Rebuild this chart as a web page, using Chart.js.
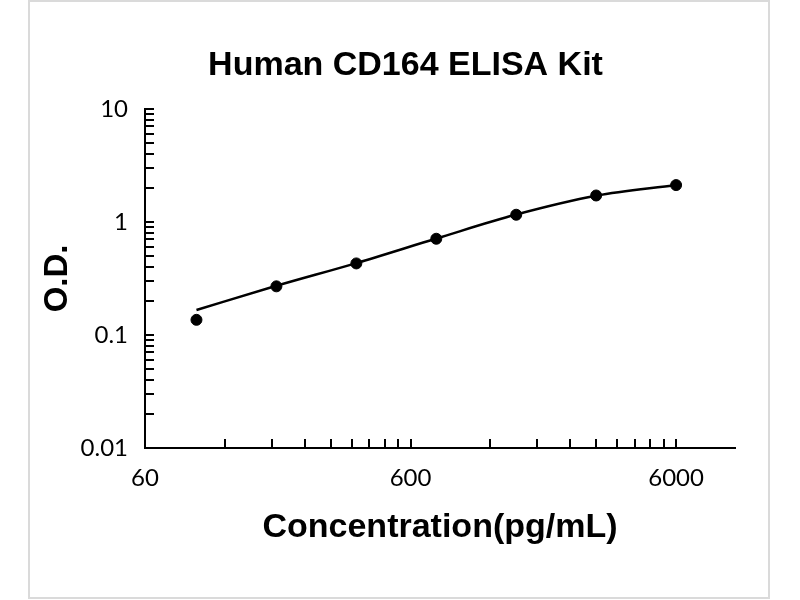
<!DOCTYPE html>
<html>
<head>
<meta charset="utf-8">
<script src="https://cdn.jsdelivr.net/npm/chart.js@4/dist/chart.umd.min.js"></script>
<style>
  body { margin: 0; background: #fff; }
  #wrap { position: relative; width: 800px; height: 600px; }
  #frame { position: absolute; left: 28px; top: 0px; width: 738px; height: 595px; border: 2px solid #dadada; pointer-events: none; }
</style>
</head>
<body>
<div id="wrap">
  <canvas id="myChart" width="800" height="600"></canvas>
  <div id="frame"></div>
</div>
<script>
// standards (pg/mL) and measured O.D.
const concentrations = [93.75, 187.5, 375, 750, 1500, 3000, 6000];
const odValues = [0.136, 0.269, 0.429, 0.709, 1.156, 1.711, 2.115];
// fitted curve at the same concentrations
const fitValues = [0.166, 0.272, 0.432, 0.712, 1.16, 1.70, 2.115];

const xTickLabels = [60, 600, 6000];
const yTickLabels = [0.01, 0.1, 1, 10];
const multiples = [1, 2, 3, 4, 5, 6, 7, 8, 9];

// minor tick positions: multiples of each labelled decade
let xTicks = [];
xTickLabels.forEach(d => {
    multiples.forEach(m => {
        if (d * m <= 10000) xTicks.push(d * m);
    });
});
let yTicks = [];
yTickLabels.forEach(d => {
    if (d === 10) { yTicks.push(10); return; }
    multiples.forEach(m => yTicks.push(+(d * m).toPrecision(3)));
});

// tick marks pointing into the plot
const innerTicks = {
    id: 'innerTicks',
    afterDraw(chart) {
        const ctx = chart.ctx;
        const xs = chart.scales.x;
        const ys = chart.scales.y;
        ctx.save();
        ctx.strokeStyle = '#000';
        ctx.lineWidth = 2;
        ctx.beginPath();
        xs.ticks.forEach(t => {
            const px = Math.round(xs.getPixelForValue(t.value));
            if (px <= chart.chartArea.left + 1) return;
            ctx.moveTo(px, chart.chartArea.bottom);
            ctx.lineTo(px, chart.chartArea.bottom - 9);
        });
        ys.ticks.forEach(t => {
            const py = Math.round(ys.getPixelForValue(t.value));
            if (py >= chart.chartArea.bottom - 1) return;
            ctx.moveTo(chart.chartArea.left, py);
            ctx.lineTo(chart.chartArea.left + 9, py);
        });
        ctx.stroke();
        ctx.restore();
    }
};

const boldFont = '"Liberation Sans", Arial, sans-serif';

const ctx = document.getElementById('myChart').getContext('2d');
const myChart = new Chart(ctx, {
    type: 'scatter',
    data: {
        datasets: [
            {
                type: 'line',
                data: concentrations.map((c, i) => ({ x: c, y: fitValues[i] })),
                borderColor: '#000',
                borderWidth: 2.5,
                pointRadius: 0,
                cubicInterpolationMode: 'monotone',
                fill: false
            },
            {
                data: concentrations.map((c, i) => ({ x: c, y: odValues[i] })),
                backgroundColor: '#000',
                borderColor: '#000',
                pointRadius: 5.5,
                pointHoverRadius: 5.5,
                showLine: false
            }
        ]
    },
    options: {
        responsive: false,
        animation: false,
        // left padding nudges the centred title right; y axis narrowed to keep the plot at x=145
        layout: { padding: { left: 76, right: 65, top: 0, bottom: 0 } },
        plugins: {
            legend: { display: false },
            tooltip: { enabled: false },
            title: {
                display: true,
                text: 'Human CD164 ELISA Kit',
                color: '#000',
                font: { family: boldFont, size: 34, weight: 'bold' },
                padding: { top: 45, bottom: 23 }
            }
        },
        scales: {
            x: {
                type: 'logarithmic',
                min: 60,
                max: 10000,
                afterBuildTicks: (scale) => {
                    scale.ticks = xTicks.map(v => ({ value: v }));
                },
                afterFit: (scale) => { scale.height = 152; },
                grid: { display: false, drawTicks: false },
                border: { display: true, color: '#000', width: 2 },
                ticks: {
                    autoSkip: false,
                    maxRotation: 0,
                    padding: 16,
                    color: '#000',
                    font: { family: 'Lato, sans-serif', size: 24 },
                    callback: (value) => xTickLabels.includes(value) ? String(value) : ''
                },
                title: {
                    display: true,
                    text: 'Concentration(pg/mL)',
                    color: '#000',
                    font: { family: boldFont, size: 34, weight: 'bold' },
                    padding: { top: 0, bottom: 52 }
                }
            },
            y: {
                type: 'logarithmic',
                min: 0.01,
                max: 10,
                afterBuildTicks: (scale) => {
                    scale.ticks = yTicks.map(v => ({ value: v }));
                },
                afterFit: (scale) => { scale.width = 69; },
                grid: { display: false, drawTicks: false },
                border: { display: true, color: '#000', width: 2 },
                ticks: {
                    autoSkip: false,
                    padding: 17,
                    color: '#000',
                    font: { family: 'Lato, sans-serif', size: 24 },
                    callback: (value) => yTickLabels.includes(value) ? String(value) : ''
                },
                title: {
                    display: true,
                    text: 'O.D.',
                    color: '#000',
                    font: { family: boldFont, size: 33, weight: 'bold' },
                    padding: { top: -38, bottom: 0 }
                }
            }
        }
    },
    plugins: [innerTicks]
});
</script>
</body>
</html>
